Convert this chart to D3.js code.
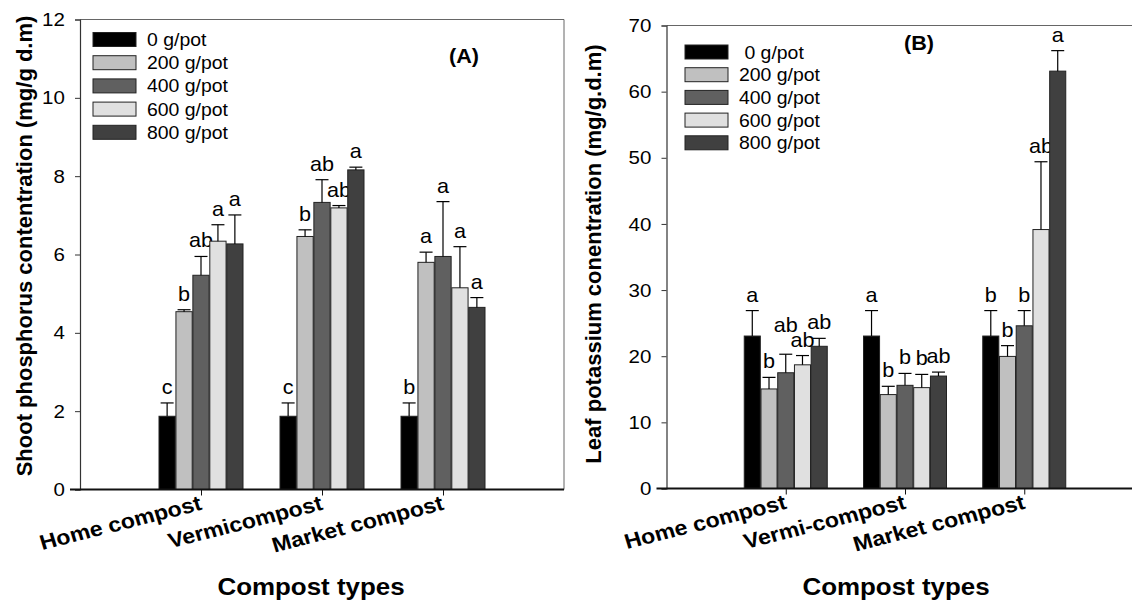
<!DOCTYPE html>
<html>
<head>
<meta charset="utf-8">
<script src="https://cdn.jsdelivr.net/npm/d3@7"></script>
<style>
  html, body { margin: 0; padding: 0; background: #fff; }
  svg { display: block; }
  text { font-family: "Liberation Sans", Arial, sans-serif; fill: #000; }
</style>
</head>
<body>
<svg id="chart" width="1132" height="606"></svg>
<script>
// ---------------- data ----------------
const categoriesA = ["Home compost", "Vermicompost", "Market compost"];
const categoriesB = ["Home compost", "Vermi-compost", "Market compost"];
const doses = ["0 g/pot", "200 g/pot", "400 g/pot", "600 g/pot", "800 g/pot"];
const legendLabelsB = [" 0 g/pot", "200 g/pot", "400 g/pot", "600 g/pot", "800 g/pot"];
const doseColors = ["#000000", "#c0c0c0", "#606060", "#e0e0e0", "#404040"];

// Panel A: shoot phosphorus (mg/g d.m) [category][dose]
const phosphorus = [
  [1.87, 4.54, 5.47, 6.34, 6.27],
  [1.87, 6.46, 7.33, 7.19, 8.16],
  [1.87, 5.80, 5.95, 5.15, 4.65]
];
const phosphorusErr = [
  [0.34, 0.05, 0.48, 0.42, 0.74],
  [0.34, 0.17, 0.58, 0.06, 0.07],
  [0.34, 0.26, 1.40, 1.05, 0.25]
];
const phosphorusLetters = [
  ["c", "b", "ab", "a", "a"],
  ["c", "b", "ab", "ab", "a"],
  ["b", "a", "a", "a", "a"]
];
const yTicksA = [0, 2, 4, 6, 8, 10, 12];

// Panel B: leaf potassium (mg/g.d.m) [category][dose]
const potassium = [
  [23.05, 15.05, 17.5, 18.7, 21.5],
  [23.05, 14.2, 15.6, 15.25, 17.0],
  [23.05, 19.97, 24.6, 39.15, 63.1]
];
const potassiumErr = [
  [3.85, 1.75, 2.8, 1.4, 1.2],
  [3.85, 1.25, 1.8, 2.0, 0.6],
  [3.85, 1.63, 2.3, 10.25, 3.1]
];
const potassiumLetters = [
  ["a", "b", "ab", "ab", "ab"],
  ["a", "b", "b", "b", "ab"],
  ["b", "b", "b", "ab", "a"]
];
const yTicksB = [0, 10, 20, 30, 40, 50, 60, 70];

const xTitle = "Compost types";
const yTitleA = "Shoot phosphorus contentration (mg/g d.m)";
const yTitleB = "Leaf potassium conentration (mg/g.d.m)";

// ---------------- drawing ----------------
const svg = d3.select("#chart");
const SX = 1.08; // horizontal stretch of the original figure's lettering

function htext(g, x, y, str, size, weight, anchor) {
  return g.append("text")
    .attr("transform", `translate(${x},${y}) scale(${SX},1)`)
    .attr("text-anchor", anchor || "start")
    .attr("font-size", size)
    .attr("font-weight", weight || "normal")
    .style("white-space", "pre")
    .text(str);
}

function panel(cfg) {
  const g = svg.append("g");
  const y = d3.scaleLinear().domain(cfg.yDomain).range([cfg.bottom, cfg.top]);
  const x = d3.scalePoint().domain(cfg.categories).range([cfg.left, cfg.right]).padding(1);
  const inner = d3.scaleBand().domain(doses).range([-cfg.groupW / 2, cfg.groupW / 2]).paddingInner(0.04);

  // frame top/right
  g.append("line").attr("x1", cfg.left).attr("x2", cfg.right).attr("y1", cfg.top).attr("y2", cfg.top)
    .attr("stroke", "#666").attr("stroke-width", 1);
  g.append("line").attr("x1", cfg.right).attr("x2", cfg.right).attr("y1", cfg.top).attr("y2", cfg.bottom)
    .attr("stroke", "#666").attr("stroke-width", 1);

  const placed = [];
  // bars
  cfg.categories.forEach((c, ci) => {
    doses.forEach((d, di) => {
      const v = cfg.values[ci][di];
      const e = cfg.errors[ci][di];
      const bx = x(c) + inner(d);
      const bw = inner.bandwidth();
      g.append("rect")
        .attr("x", bx).attr("y", y(v))
        .attr("width", bw).attr("height", y(0) - y(v))
        .attr("fill", doseColors[di]).attr("stroke", "#222").attr("stroke-width", 1);
      const cx = bx + bw / 2;
      g.append("line").attr("x1", cx).attr("x2", cx).attr("y1", y(v)).attr("y2", y(v + e))
        .attr("stroke", "#000").attr("stroke-width", 1.2);
      g.append("line").attr("x1", cx - 6.5).attr("x2", cx + 6.5).attr("y1", y(v + e)).attr("y2", y(v + e))
        .attr("stroke", "#000").attr("stroke-width", 1.2);
      const t = htext(g, cx, y(v + e) - 9, cfg.letters[ci][di], 20, "normal", "middle");
      const w = t.node().getComputedTextLength() * SX;
      const lab = { t: t, cx: cx, base: y(v + e) - 9, w: w };
      // if clearly overlapping the previous label of the group, raise the previous one
      const prev = placed.length ? placed[placed.length - 1] : null;
      if (prev && prev.ci === ci) {
        const hOver = (prev.w + w) / 2 - Math.abs(prev.cx - cx) > 3;
        const vOver = Math.abs(prev.base - lab.base) < 15;
        if (hOver && vOver) {
          prev.base = lab.base - 15;
          prev.t.attr("transform", `translate(${prev.cx},${prev.base}) scale(${SX},1)`);
        }
      }
      lab.ci = ci;
      placed.push(lab);
    });
  });

  // y axis
  const ya = g.append("g").attr("transform", `translate(${cfg.left},0)`)
    .call(d3.axisLeft(y).tickValues(cfg.yTicks).tickSize(5).tickPadding(8).tickFormat(d3.format("d")));
  ya.select(".domain").attr("stroke", "#333").attr("stroke-width", 1.2);
  ya.selectAll(".tick line").attr("stroke", "#333");
  ya.selectAll(".tick text").attr("font-size", 19).attr("font-family", "Liberation Sans, Arial, sans-serif")
    .attr("fill", "#000").attr("transform", function() {
      const xx = +d3.select(this).attr("x");
      return `translate(${xx * (SX - 1)},0) scale(${SX},1)`;
    });

  // x axis
  const xa = g.append("g").attr("transform", `translate(0,${cfg.bottom})`)
    .call(d3.axisBottom(x).tickSize(6).tickSizeOuter(0).tickFormat(""));
  xa.select(".domain").attr("stroke", "#111").attr("stroke-width", 2)
    .attr("d", `M${cfg.left - 10},0H${cfg.right}`);
  xa.selectAll(".tick line").attr("stroke", "#111");

  // category labels
  cfg.categories.forEach(c => {
    g.append("text")
      .attr("transform", `translate(${x(c) + 2},${cfg.bottom + 20}) scale(1.1,1) rotate(-15.5)`)
      .attr("text-anchor", "end").attr("font-size", 21).attr("font-weight", "bold")
      .text(c);
  });

  // x title
  htext(g, cfg.xTitleX, 595, xTitle, 24, "bold", "middle");

  // y title
  g.append("text")
    .attr("transform", `translate(${cfg.yTitleX},${cfg.yTitleY}) rotate(-90)`)
    .attr("text-anchor", "middle").attr("font-size", 22).attr("font-weight", "bold")
    .text(cfg.yTitle);

  // panel label
  htext(g, cfg.tagX, cfg.tagY, cfg.tag, 20, "bold", "middle");

  // legend
  cfg.legendLabels.forEach((l, i) => {
    const ly = cfg.legY + i * cfg.legStep;
    g.append("rect").attr("x", cfg.legX).attr("y", ly).attr("width", 43).attr("height", 14)
      .attr("fill", doseColors[i]).attr("stroke", "#222").attr("stroke-width", 1);
    htext(g, cfg.legX + 54, ly + 13.5, l, 18, "normal", "start");
  });
}

panel({
  categories: categoriesA, values: phosphorus, errors: phosphorusErr, letters: phosphorusLetters,
  yDomain: [0, 12], yTicks: yTicksA,
  left: 80, right: 564, top: 19.5, bottom: 489.5, groupW: 84,
  yTitle: yTitleA, yTitleX: 32, yTitleY: 246, xTitleX: 311,
  tag: "(A)", tagX: 464, tagY: 63,
  legendLabels: doses, legX: 93, legY: 32.5, legStep: 23.2
});

panel({
  categories: categoriesB, values: potassium, errors: potassiumErr, letters: potassiumLetters,
  yDomain: [0, 70], yTicks: yTicksB,
  left: 666.5, right: 1143.5, top: 25.5, bottom: 488.5, groupW: 83,
  yTitle: yTitleB, yTitleX: 601, yTitleY: 254, xTitleX: 896,
  tag: "(B)", tagX: 919, tagY: 50,
  legendLabels: legendLabelsB, legX: 685, legY: 45, legStep: 22.7
});
</script>
</body>
</html>
